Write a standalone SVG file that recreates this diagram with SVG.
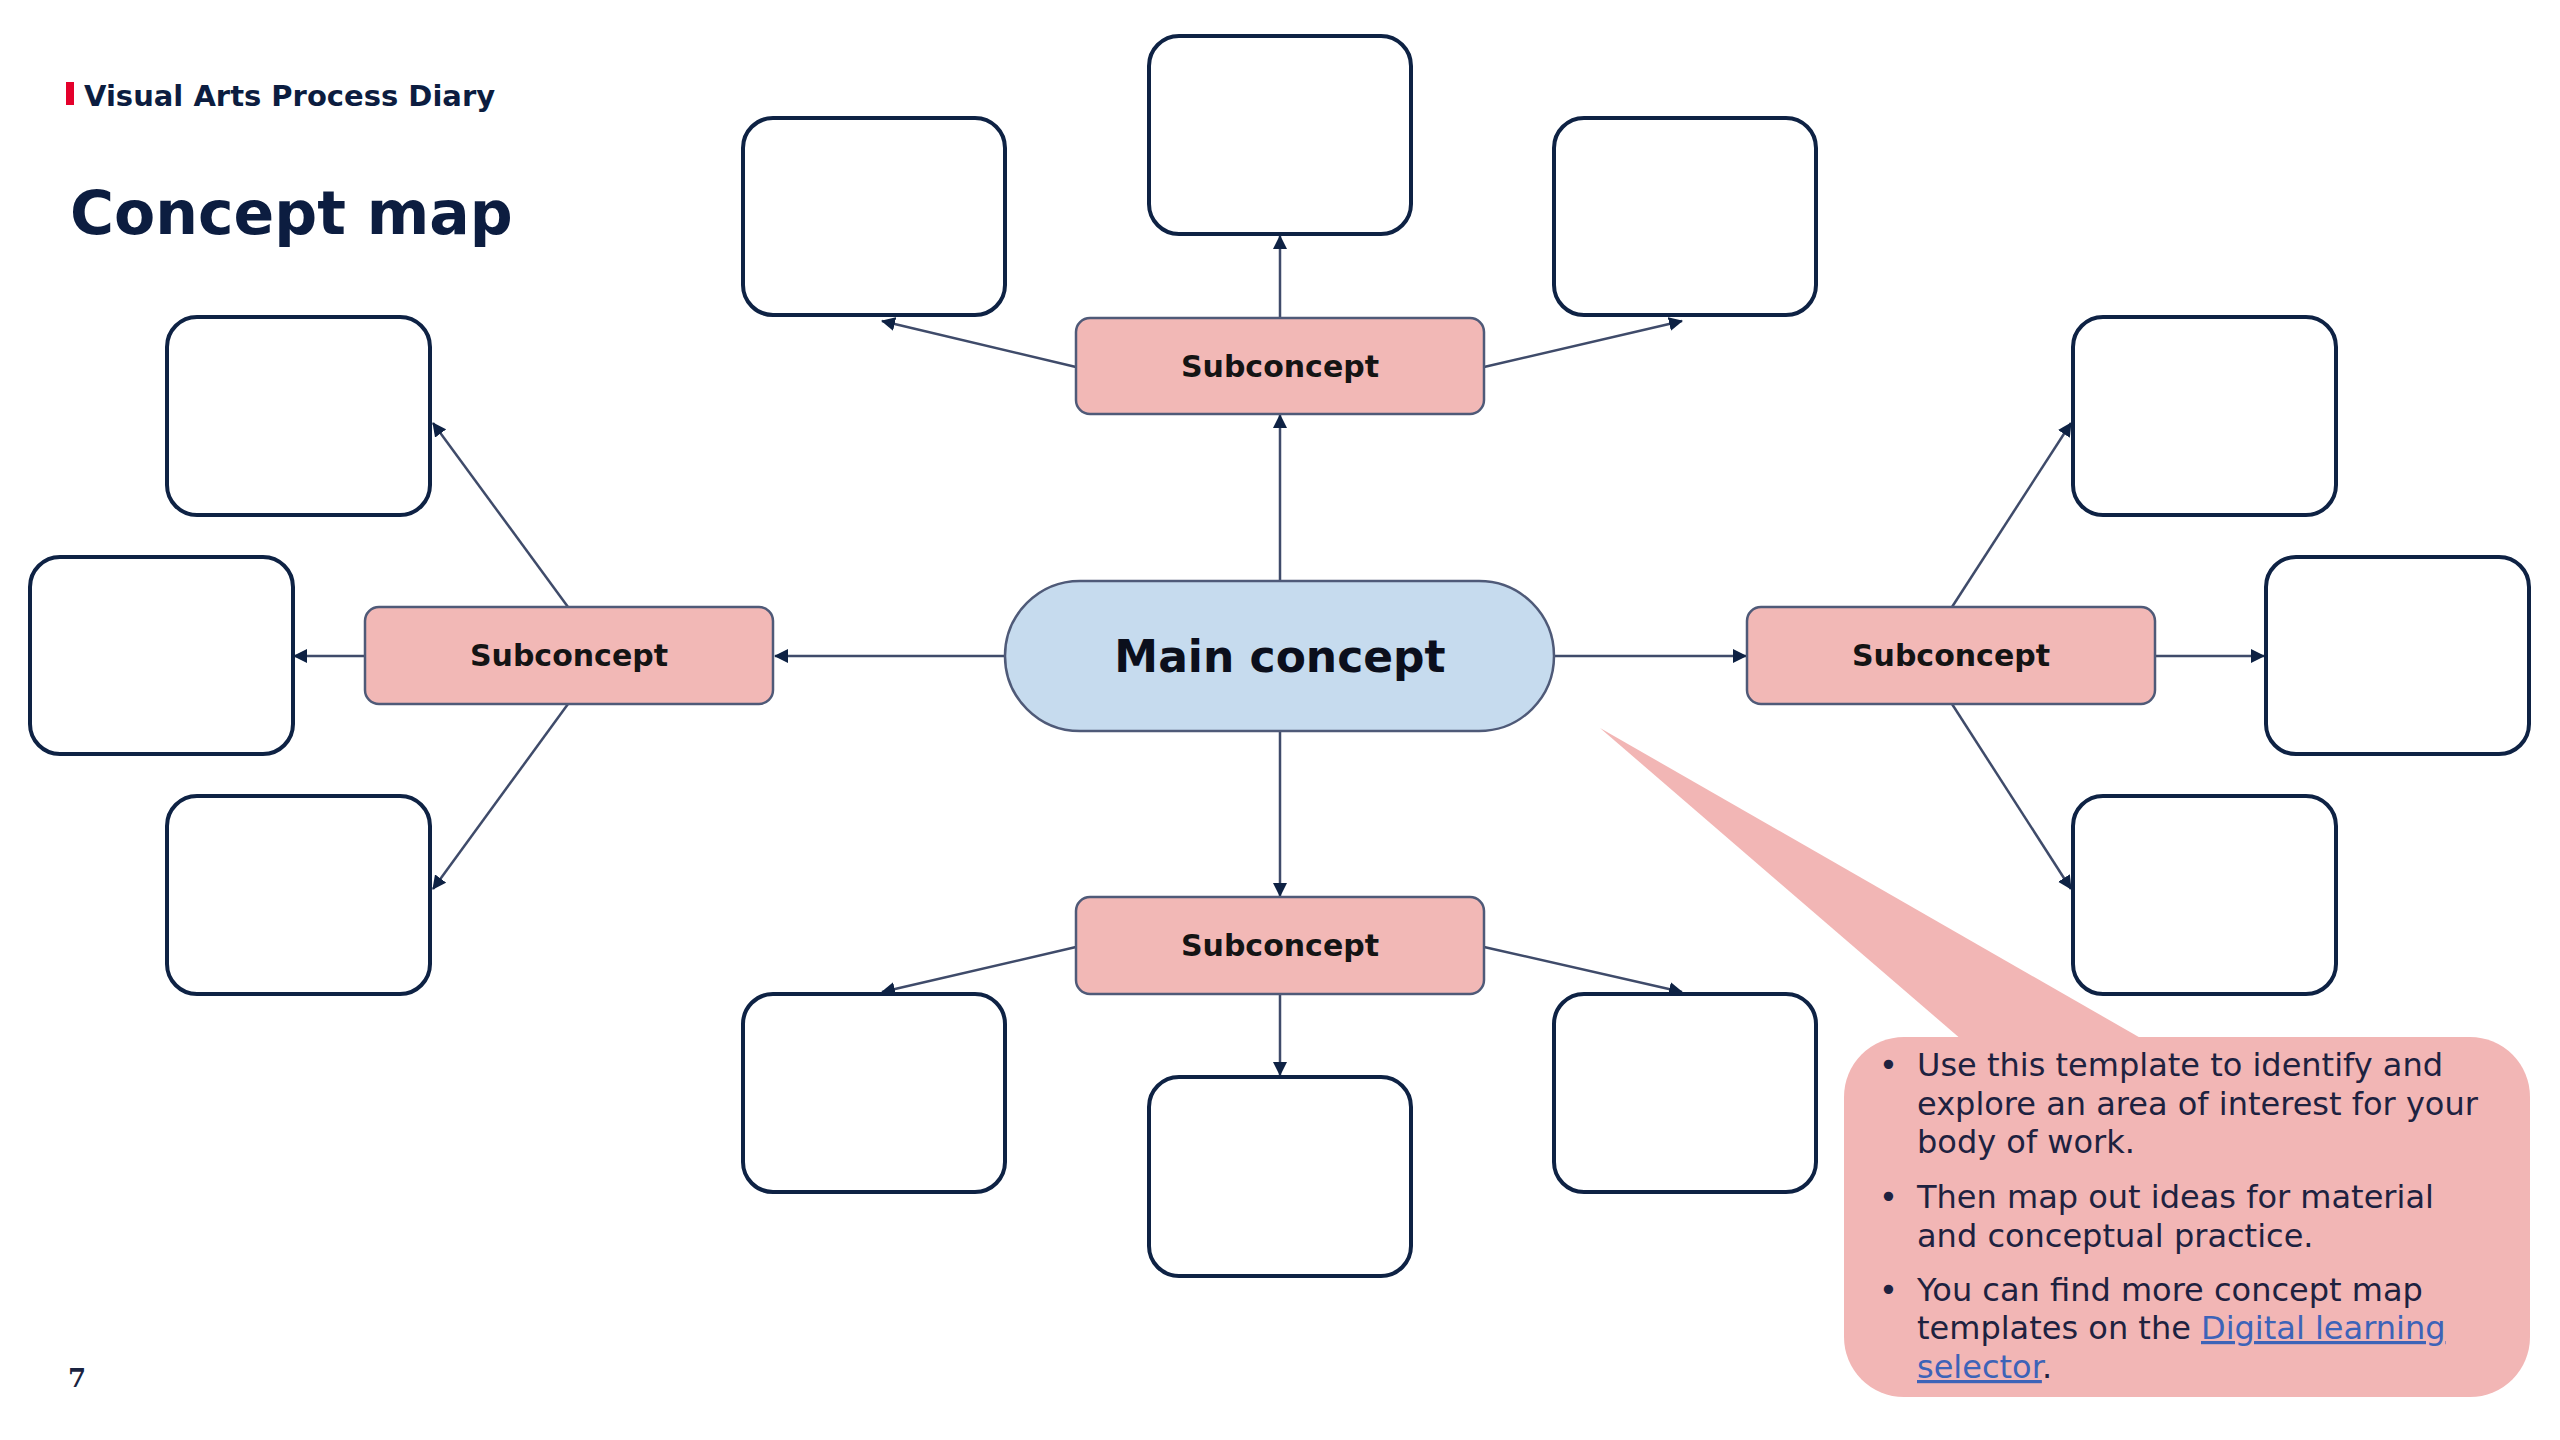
<svg xmlns="http://www.w3.org/2000/svg" width="2560" height="1440" viewBox="0 0 2560 1440">
  <style>
    .box { fill: #ffffff; stroke: #0e2244; stroke-width: 4; }
    .sub { fill: #f2b8b6; stroke: #4f5a78; stroke-width: 2.5; }
    .main { fill: #c6dbee; stroke: #4f5a78; stroke-width: 2.5; }
    .conn { fill: none; stroke: #3f4b6a; stroke-width: 2.5; marker-end: url(#arrow); }
    .subtxt { font-family: "DejaVu Sans", "Liberation Sans", sans-serif; font-weight: bold; font-size: 30px; fill: #141414; text-anchor: middle; }
    .maintxt { font-family: "DejaVu Sans", "Liberation Sans", sans-serif; font-weight: bold; font-size: 44px; fill: #0b0f1c; text-anchor: middle; }
    .note { font-family: "DejaVu Sans", "Liberation Sans", sans-serif; font-size: 32px; fill: #1e2240; }
    .link { fill: #3d63b8; text-decoration: underline; }
  </style>
  <defs>
    <marker id="arrow" viewBox="0 0 14 14" refX="13" refY="7" markerWidth="14" markerHeight="14" markerUnits="userSpaceOnUse" orient="auto">
      <path d="M0,0 L14,7 L0,14 z" fill="#0e2244"/>
    </marker>
  </defs>

  <rect x="0" y="0" width="2560" height="1440" fill="#ffffff"/>

  <!-- Header -->
  <g id="header">
    <rect x="66" y="82" width="8" height="23" fill="#e4002b"/>
    <text x="84" y="106" font-family="DejaVu Sans, Liberation Sans, sans-serif" font-weight="bold" font-size="29" fill="#0c1d40">Visual Arts Process Diary</text>
    <text x="70" y="234" font-family="DejaVu Sans, Liberation Sans, sans-serif" font-weight="bold" font-size="60" fill="#0c1d40">Concept map</text>
    <text x="68" y="1387" font-family="DejaVu Serif, Liberation Serif, serif" font-weight="bold" font-size="26" fill="#1a2340">7</text>
  </g>

  <!-- Callout -->
  <g id="callout">
    <path d="M1600,728 L1962,1040 L2144,1040 Z" fill="#f2b6b5"/>
    <rect x="1844" y="1037" width="686" height="360" rx="60" ry="60" fill="#f2b6b5"/>
    <g class="note">
      <text x="1879" y="1076">•</text>
      <text x="1917" y="1076">Use this template to identify and</text>
      <text x="1917" y="1115">explore an area of interest for your</text>
      <text x="1917" y="1153">body of work.</text>
      <text x="1879" y="1208">•</text>
      <text x="1917" y="1208">Then map out ideas for material</text>
      <text x="1917" y="1247">and conceptual practice.</text>
      <text x="1879" y="1301">•</text>
      <text x="1917" y="1301">You can find more concept map</text>
      <text x="1917" y="1339">templates on the <tspan class="link">Digital learning</tspan></text>
      <text x="1917" y="1378"><tspan class="link">selector</tspan>.</text>
    </g>
  </g>

  <!-- Connectors -->
  <g id="connectors">
    <path class="conn" d="M1280,580 L1280,415"/>
    <path class="conn" d="M1280,318 L1280,236"/>
    <path class="conn" d="M1076,367 L882,321"/>
    <path class="conn" d="M1484,367 L1682,321"/>
    <path class="conn" d="M1005,656 L775,656"/>
    <path class="conn" d="M365,656 L294,656"/>
    <path class="conn" d="M568,607 L433,423"/>
    <path class="conn" d="M568,704 L433,889"/>
    <path class="conn" d="M1554,656 L1746,656"/>
    <path class="conn" d="M2155,656 L2264,656"/>
    <path class="conn" d="M1952,607 L2071,423"/>
    <path class="conn" d="M1952,704 L2071,889"/>
    <path class="conn" d="M1280,731 L1280,896"/>
    <path class="conn" d="M1280,994 L1280,1075"/>
    <path class="conn" d="M1076,947 L882,992"/>
    <path class="conn" d="M1484,947 L1682,992"/>
  </g>

  <!-- Main concept -->
  <g id="main-concept">
    <rect class="main" x="1005" y="581" width="549" height="150" rx="75" ry="75"/>
    <text class="maintxt" x="1280" y="672">Main concept</text>
  </g>

  <!-- Subconcepts -->
  <g id="sub-top">
    <rect class="sub" x="1076" y="318" width="408" height="96" rx="14" ry="14"/>
    <text class="subtxt" x="1280" y="377">Subconcept</text>
  </g>
  <g id="sub-bottom">
    <rect class="sub" x="1076" y="897" width="408" height="97" rx="14" ry="14"/>
    <text class="subtxt" x="1280" y="956">Subconcept</text>
  </g>
  <g id="sub-left">
    <rect class="sub" x="365" y="607" width="408" height="97" rx="14" ry="14"/>
    <text class="subtxt" x="569" y="666">Subconcept</text>
  </g>
  <g id="sub-right">
    <rect class="sub" x="1747" y="607" width="408" height="97" rx="14" ry="14"/>
    <text class="subtxt" x="1951" y="666">Subconcept</text>
  </g>

  <!-- Empty boxes -->
  <g id="box-top-center"><rect class="box" x="1149" y="36" width="262" height="198" rx="30" ry="30"/></g>
  <g id="box-top-left"><rect class="box" x="743" y="118" width="262" height="197" rx="30" ry="30"/></g>
  <g id="box-top-right"><rect class="box" x="1554" y="118" width="262" height="197" rx="30" ry="30"/></g>
  <g id="box-left-upper"><rect class="box" x="167" y="317" width="263" height="198" rx="30" ry="30"/></g>
  <g id="box-left-mid"><rect class="box" x="30" y="557" width="263" height="197" rx="30" ry="30"/></g>
  <g id="box-left-lower"><rect class="box" x="167" y="796" width="263" height="198" rx="30" ry="30"/></g>
  <g id="box-right-upper"><rect class="box" x="2073" y="317" width="263" height="198" rx="30" ry="30"/></g>
  <g id="box-right-mid"><rect class="box" x="2266" y="557" width="263" height="197" rx="30" ry="30"/></g>
  <g id="box-right-lower"><rect class="box" x="2073" y="796" width="263" height="198" rx="30" ry="30"/></g>
  <g id="box-bottom-left"><rect class="box" x="743" y="994" width="262" height="198" rx="30" ry="30"/></g>
  <g id="box-bottom-center"><rect class="box" x="1149" y="1077" width="262" height="199" rx="30" ry="30"/></g>
  <g id="box-bottom-right"><rect class="box" x="1554" y="994" width="262" height="198" rx="30" ry="30"/></g>
</svg>
